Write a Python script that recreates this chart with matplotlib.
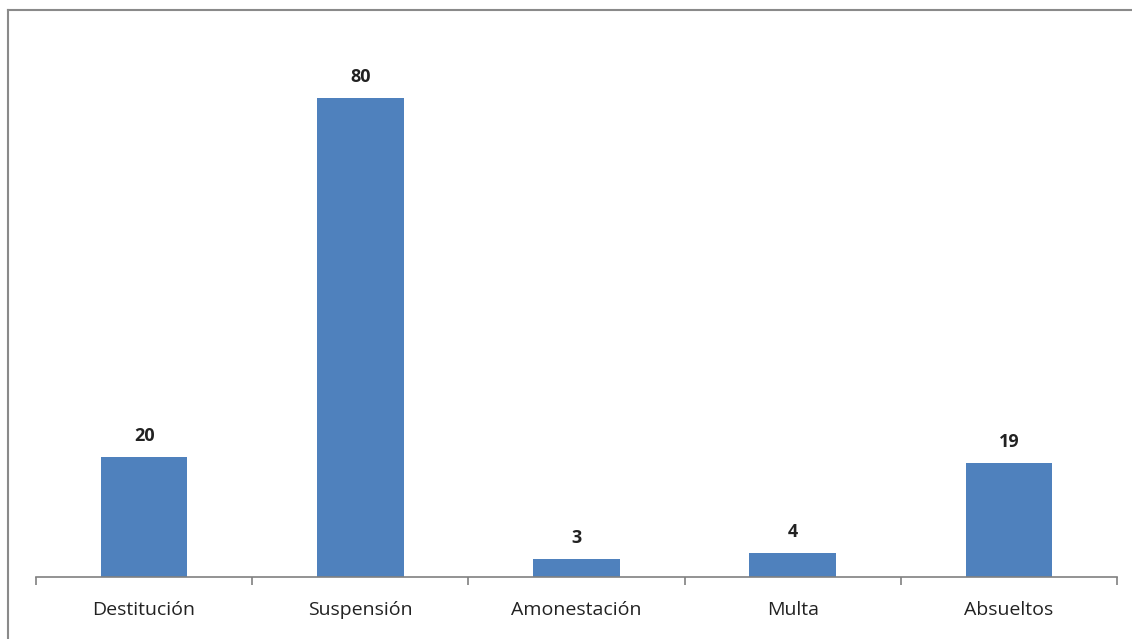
import matplotlib.pyplot as plt
from matplotlib.lines import Line2D
import numpy as np

# Sanciones por categoría
categorias = ['Destitución', 'Suspensión', 'Amonestación', 'Multa', 'Absueltos']
valores = [20, 80, 3, 4, 19]

plt.rcParams['font.family'] = ['Open Sans', 'DejaVu Sans']

fig = plt.figure(figsize=(11.32, 6.39), dpi=100)
ax = fig.add_axes([36 / 1132, 1 - 577 / 639, (1117 - 36) / 1132, (577 - 38) / 639])

x = np.arange(len(categorias))
bars = ax.bar(x, valores, width=0.4, color='#4F81BD', zorder=2)

for xi, v in zip(x, valores):
    ax.text(xi, v + 2.0, str(v), ha='center', va='bottom', fontsize=13,
            fontweight='bold', color='#222222')

ax.set_xlim(-0.5, len(categorias) - 0.5)
ax.set_ylim(0, 90)
ax.set_yticks([])
ax.set_xticks(x)
ax.set_xticklabels(categorias, fontsize=14, color='#222222')
ax.set_xticks(np.arange(-0.5, len(categorias)), minor=True)
ax.tick_params(axis='x', which='major', length=0, pad=17)
ax.tick_params(axis='x', which='minor', length=6, width=1.2, color='#808080', direction='out')

for side in ['top', 'right', 'left']:
    ax.spines[side].set_visible(False)
ax.spines['bottom'].set_color('#808080')
ax.spines['bottom'].set_linewidth(1.2)

# marco del gráfico
fig.add_artist(Line2D([8 / 1132, 8 / 1132], [0, 1 - 10 / 639], color='#8a8a8a', lw=1.5))
fig.add_artist(Line2D([8 / 1132, 1], [1 - 10 / 639, 1 - 10 / 639], color='#8a8a8a', lw=1.5))

fig.savefig('out.png', dpi=100)
